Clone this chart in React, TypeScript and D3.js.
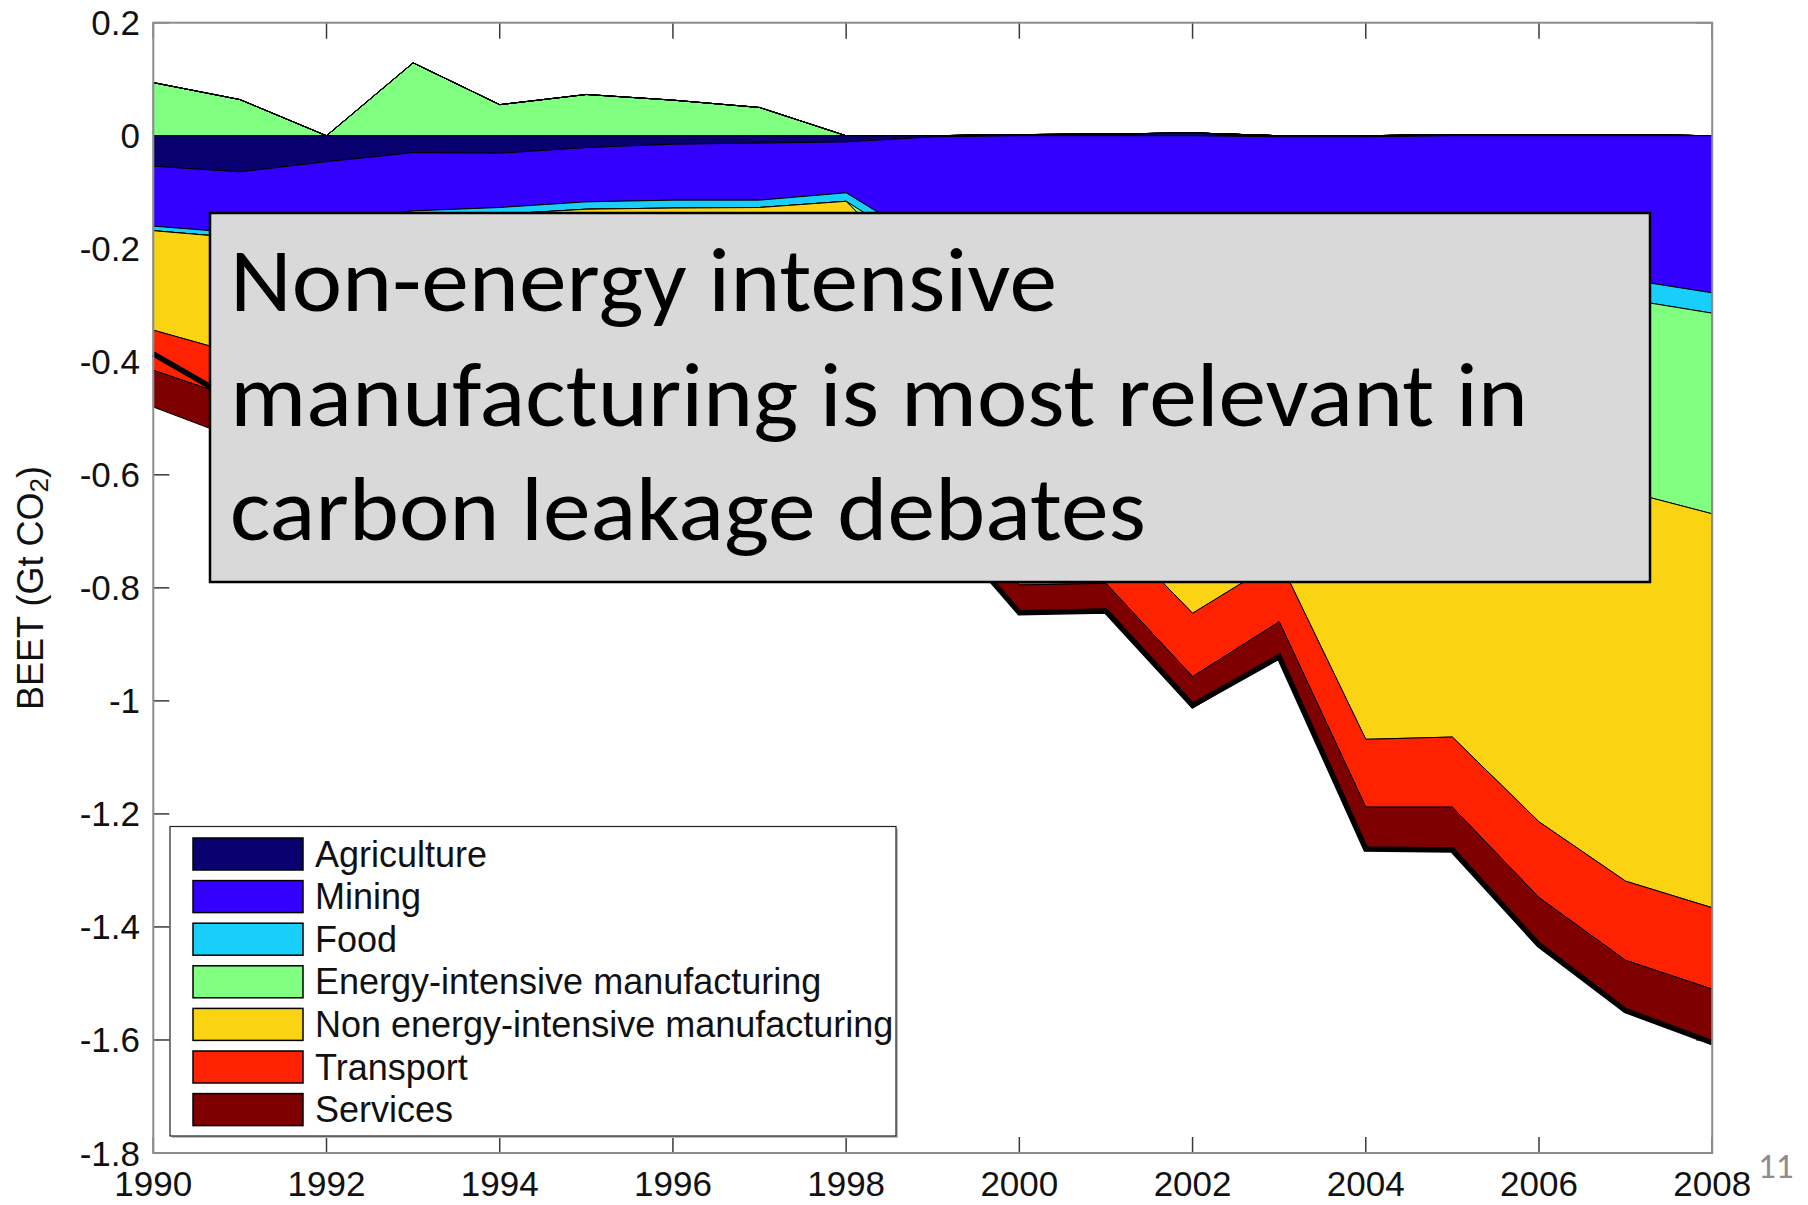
import React from 'react';
import * as d3 from 'd3';

// Balance of emissions embodied in trade, by sector (Gt CO2)
const years = [1990, 1991, 1992, 1993, 1994, 1995, 1996, 1997, 1998, 1999, 2000, 2001, 2002, 2003, 2004, 2005, 2006, 2007, 2008];

const agriculture = [-0.054, -0.064, -0.046, -0.030, -0.031, -0.021, -0.015, -0.013, -0.011, -0.002, 0.002, 0.003, 0.005, -0.002, -0.002, 0.002, 0.002, 0.002, 0.0];
const mining = [-0.106, -0.108, -0.104, -0.103, -0.096, -0.096, -0.099, -0.101, -0.090, -0.193, -0.200, -0.205, -0.215, -0.212, -0.225, -0.230, -0.242, -0.254, -0.278];
const food = [-0.008, -0.009, -0.010, -0.012, -0.012, -0.013, -0.014, -0.013, -0.015, -0.018, -0.020, -0.022, -0.025, -0.027, -0.029, -0.031, -0.033, -0.035, -0.036];
const energyIntensive = [0.094, 0.064, 0.0, 0.129, 0.055, 0.073, 0.063, 0.050, 0.0, -0.060, -0.140, -0.160, -0.200, -0.200, -0.250, -0.260, -0.300, -0.340, -0.355];
const nonEnergyIntensive = [-0.176, -0.206, -0.190, -0.205, -0.231, -0.250, -0.262, -0.274, -0.295, -0.245, -0.335, -0.300, -0.405, -0.310, -0.562, -0.543, -0.639, -0.690, -0.697];
const transport = [-0.071, -0.080, -0.082, -0.084, -0.086, -0.088, -0.090, -0.091, -0.093, -0.095, -0.100, -0.105, -0.112, -0.109, -0.120, -0.124, -0.134, -0.140, -0.144];
const services = [-0.065, -0.071, -0.068, -0.066, -0.064, -0.062, -0.060, -0.058, -0.056, -0.054, -0.051, -0.052, -0.056, -0.062, -0.074, -0.078, -0.086, -0.091, -0.095];

const sectorNames = [
  'Agriculture',
  'Mining',
  'Food',
  'Energy-intensive manufacturing',
  'Non energy-intensive manufacturing',
  'Transport',
  'Services',
];
const sectorValues = [agriculture, mining, food, energyIntensive, nonEnergyIntensive, transport, services];
const sectorColors = ['#08006e', '#3300ff', '#18cffb', '#80ff80', '#fad313', '#ff2200', '#7f0000'];

const yTickValues = [0.2, 0, -0.2, -0.4, -0.6, -0.8, -1.0, -1.2, -1.4, -1.6, -1.8];
const yTickLabels = ['0.2', '0', '-0.2', '-0.4', '-0.6', '-0.8', '-1', '-1.2', '-1.4', '-1.6', '-1.8'];
const xTickValues = [1990, 1992, 1994, 1996, 1998, 2000, 2002, 2004, 2006, 2008];
const xTickLabels = ['1990', '1992', '1994', '1996', '1998', '2000', '2002', '2004', '2006', '2008'];

const calloutLines = ['Non-energy intensive', 'manufacturing is most relevant in', 'carbon leakage debates'];
const calloutWidths = [827, 1298, 916];
const slideNumber = '11';

const W = 1808;
const H = 1205;
const plot = { left: 153.3, right: 1712.2, top: 22.7, bottom: 1153 };
const axisFont = "Arial, 'Liberation Sans', Helvetica, sans-serif";

export default function App() {
  const x = d3.scaleLinear().domain([1990, 2008]).range([plot.left, plot.right]);
  const y = d3.scaleLinear().domain([-1.8, 0.2]).range([plot.bottom, plot.top]);

  const rows = years.map((yr, i) => {
    const r: Record<string, number> = { year: yr };
    sectorNames.forEach((k, j) => (r[k] = sectorValues[j][i]));
    return r;
  });

  // positive and negative parts are stacked separately, away from zero
  const posStack = d3
    .stack<Record<string, number>>()
    .keys(sectorNames)
    .value((d, k) => Math.max(0, d[k]))(rows);
  const negStack = d3
    .stack<Record<string, number>>()
    .keys(sectorNames)
    .value((d, k) => Math.min(0, d[k]))(rows);

  const area = d3
    .area<any>()
    .x((d) => x(d.data.year))
    .y0((d) => y(d[0]))
    .y1((d) => y(d[1]));

  const totals = years.map((_, i) => sectorValues.reduce((s, v) => s + v[i], 0));
  const totalLine = d3
    .line<number>()
    .x((_, i) => x(years[i]))
    .y((d) => y(d));

  const tickLen = 16;
  const tickColor = '#3a3a3a';

  const legend = { x: 170, y: 826.5, w: 726, h: 309.5 };
  const rowStep = 42.6;
  const firstRow = 854;

  return (
    <svg
      width={W}
      height={H}
      viewBox={`0 0 ${W} ${H}`}
      style={{ position: 'absolute', left: 0, top: 0, background: '#fff' }}
    >
      <rect x={0} y={0} width={W} height={H} fill="#fff" />

      {/* ticks sit beneath the data */}
      <g stroke={tickColor} strokeWidth={1.5}>
        {xTickValues.map((v) => (
          <g key={'xt' + v}>
            <line x1={x(v)} x2={x(v)} y1={plot.bottom} y2={plot.bottom - tickLen} />
            <line x1={x(v)} x2={x(v)} y1={plot.top} y2={plot.top + tickLen} />
          </g>
        ))}
        {yTickValues.map((v) => (
          <g key={'yt' + v}>
            <line x1={plot.left} x2={plot.left + tickLen} y1={y(v)} y2={y(v)} />
            <line x1={plot.right} x2={plot.right - tickLen} y1={y(v)} y2={y(v)} />
          </g>
        ))}
      </g>

      {/* stacked areas */}
      <g stroke="#000" strokeWidth={1} strokeLinejoin="miter">
        {posStack.map((s, j) => (
          <path key={'p' + j} d={area(s) || ''} fill={sectorColors[j]} />
        ))}
        {negStack.map((s, j) => (
          <path key={'n' + j} d={area(s) || ''} fill={sectorColors[j]} />
        ))}
      </g>

      {/* net total */}
      <path d={totalLine(totals) || ''} fill="none" stroke="#000" strokeWidth={5.5} strokeLinejoin="miter" strokeMiterlimit={6} />

      {/* axes box */}
      <rect
        x={plot.left}
        y={plot.top}
        width={plot.right - plot.left}
        height={plot.bottom - plot.top}
        fill="none"
        stroke="#8c8c8c"
        strokeWidth={2}
      />

      {/* tick labels */}
      <g fontFamily={axisFont} fontSize={35} fill="#111">
        {yTickValues.map((v, i) => (
          <text key={'yl' + v} x={140} y={y(v)} textAnchor="end" dominantBaseline="central">
            {yTickLabels[i]}
          </text>
        ))}
        {xTickValues.map((v, i) => (
          <text key={'xl' + v} x={x(v)} y={1196} textAnchor="middle">
            {xTickLabels[i]}
          </text>
        ))}
      </g>

      {/* y-axis title */}
      <text
        transform="translate(30,588) rotate(-90)"
        textAnchor="middle"
        dominantBaseline="central"
        fontFamily={axisFont}
        fontSize={36}
        fill="#111"
      >
        BEET (Gt CO
        <tspan fontSize={26} dy={9}>2</tspan>
        <tspan dy={-9}>)</tspan>
      </text>

      {/* legend */}
      <rect x={legend.x + 2} y={legend.y + 2} width={legend.w} height={legend.h} fill="#bdbdbd" />
      <rect x={legend.x} y={legend.y} width={legend.w} height={legend.h} fill="#fff" stroke="#222" strokeWidth={1.2} />
      {sectorNames.map((name, i) => {
        const cy = firstRow + i * rowStep;
        return (
          <g key={'lg' + i}>
            <rect x={193} y={cy - 16} width={110} height={32} fill={sectorColors[i]} stroke="#000" strokeWidth={1.5} />
            <text x={315} y={cy + 12.5} fontFamily={axisFont} fontSize={36} fill="#111">
              {name}
            </text>
          </g>
        );
      })}

      {/* callout */}
      <rect x={210} y={213} width={1440} height={369} fill="#d9d9d9" stroke="#000" strokeWidth={2.5} />
      <g fontFamily="Carlito, Calibri, Lato, 'Open Sans', sans-serif" fontSize={91} fill="#000">
        {calloutLines.map((t, i) => (
          <text
            key={'c' + i}
            x={230}
            y={311 + i * 114.5}
            textLength={calloutWidths[i]}
            lengthAdjust="spacingAndGlyphs"
          >
            {t}
          </text>
        ))}
      </g>

      {/* slide number */}
      <text x={1758} y={1178} fontFamily="Carlito, Calibri, Lato, sans-serif" fontSize={35} fill="#8c8c8c">
        {slideNumber}
      </text>
    </svg>
  );
}
